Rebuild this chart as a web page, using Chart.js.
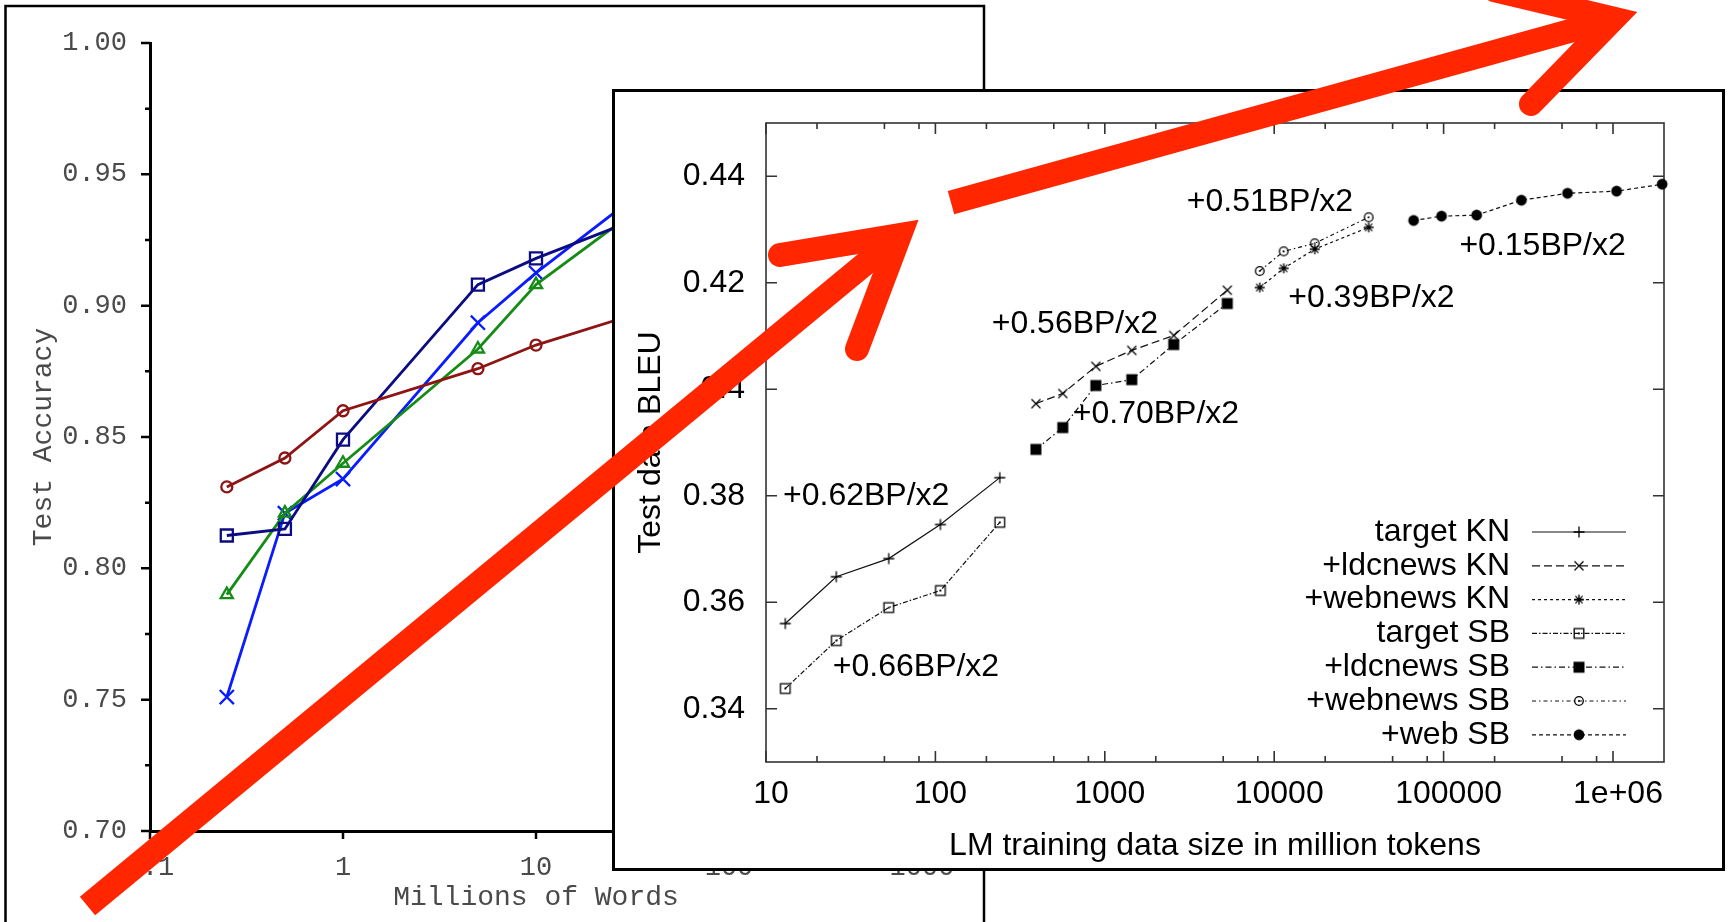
<!DOCTYPE html>
<html>
<head>
<meta charset="utf-8">
<title>Test accuracy vs. BLEU learning curves</title>
<script src="https://cdn.jsdelivr.net/npm/chart.js@4.4.1/dist/chart.umd.min.js"></script>
<style>
  html, body { margin: 0; padding: 0; background: #fff; overflow: hidden; }
  #stage { position: relative; width: 1729px; height: 922px; }
  #accuracyChart { position: absolute; left: 0; top: 0; }
  #insetBox { position: absolute; left: 612px; top: 89px; width: 1113px; height: 782px;
              border: 3px solid #000; box-sizing: border-box; background: #fff; }
  #bleuChart { position: absolute; left: 0; top: 0; }
  #arrows { position: absolute; left: 0; top: 0; pointer-events: none; }
</style>
</head>
<body>
<div id="stage">
  <canvas id="accuracyChart" width="1729" height="922"></canvas>
  <div id="insetBox"><canvas id="bleuChart" width="1107" height="776"></canvas></div>
  <canvas id="arrows" width="1729" height="922"></canvas>
</div>
<script>
// ---- background chart: test accuracy vs. millions of words ----
const wordCounts = [0.25, 0.5, 1, 5, 10, 50, 100, 500, 1000];
const darkRedAcc = [0.831, 0.842, 0.860, 0.876, 0.885, 0.901, 0.909, 0.917, 0.921];
const navyAcc = [0.8125, 0.815, 0.849, 0.908, 0.918, 0.938, 0.945, 0.955, 0.960];
const greenAcc = [0.790, 0.821, 0.840, 0.8835, 0.908, 0.946, 0.952, 0.962, 0.966];
const blueAcc = [0.751, 0.821, 0.834, 0.8935, 0.9125, 0.952, 0.958, 0.966, 0.970];
const wordTicks = [0.1, 1, 10, 100, 1000];
const wordTickLabels = ['0.1', '1', '10', '100', '1000'];
const accuracyTicks = [0.70, 0.75, 0.80, 0.85, 0.90, 0.95, 1.00];

// ---- inset chart: BLEU vs. LM training data size ----
const targetSizes = [13, 26, 53, 107, 240];
const targetKN = [0.356, 0.3648, 0.3682, 0.3746, 0.3834];
const targetSB = [0.3438, 0.3528, 0.359, 0.3622, 0.375];
const ldcnewsSizes = [392, 565, 885, 1443, 2552, 5285];
const ldcnewsKN = [0.3973, 0.3992, 0.4043, 0.4073, 0.4101, 0.4186];
const ldcnewsSB = [0.3887, 0.3928, 0.4007, 0.4018, 0.4084, 0.4161];
const webnewsSizes = [8210, 11370, 17340, 36100];
const webnewsKN = [0.4191, 0.4227, 0.4263, 0.4304];
const webnewsSB = [0.4222, 0.4259, 0.4274, 0.4323];
const webSizes = [66500, 97200, 156700, 288000, 539000, 1050000, 1950000];
const webSB = [0.4317, 0.4325, 0.4327, 0.4355, 0.4368, 0.4372, 0.4385];

const bleuTicks = [0.34, 0.36, 0.38, 0.40, 0.42, 0.44];
const bleuTickLabels = ['0.34', '0.36', '0.38', '0.4', '0.42', '0.44'];
const sizeTicks = [10, 100, 1000, 10000, 100000, 1000000];
const sizeTickLabels = ['10', '100', '1000', '10000', '100000', '1e+06'];
const sizeMinorTicks = [20, 50, 80, 200, 500, 800, 2000, 5000, 8000,
  20000, 50000, 80000, 200000, 500000, 800000];

const slopeNotes = ['+0.62BP/x2', '+0.66BP/x2', '+0.56BP/x2', '+0.70BP/x2',
  '+0.51BP/x2', '+0.39BP/x2', '+0.15BP/x2'];
const noteSizes = [12.6, 24.8, 215, 647, 3048, 12100, 124000];
const noteBleu = [0.380, 0.3479, 0.4122, 0.3953, 0.4351, 0.4171, 0.4269];

const toPoints = (xs, ys) => xs.map((x, i) => ({ x: x, y: ys[i] }));

// keep the plot area exactly where the layout padding puts it
const noScalePadding = s => {
  s.paddingTop = 0; s.paddingBottom = 0; s.paddingLeft = 0; s.paddingRight = 0;
};

// ---------- background chart ----------
const monoFont = '"Liberation Mono", "DejaVu Sans Mono", monospace';
const greyText = '#4a4a4a';

const accuracyFrame = {
  id: 'accuracyFrame',
  afterDraw(chart) {
    const { ctx, chartArea: a } = chart;
    const x = chart.scales.x, y = chart.scales.y;
    ctx.save();
    ctx.strokeStyle = '#000';
    ctx.lineWidth = 2.5;
    // the picture's own frame, open at the bottom
    ctx.beginPath();
    ctx.moveTo(5.5, 922); ctx.lineTo(5.5, 6); ctx.lineTo(984, 6); ctx.lineTo(984, 922);
    ctx.stroke();
    // outward ticks, minor ones halfway
    ctx.beginPath();
    for (let i = 0; i < accuracyTicks.length; i++) {
      const py = y.getPixelForValue(accuracyTicks[i]);
      ctx.moveTo(a.left - 9, py); ctx.lineTo(a.left, py);
      if (i < accuracyTicks.length - 1) {
        const pm = y.getPixelForValue((accuracyTicks[i] + accuracyTicks[i + 1]) / 2);
        ctx.moveTo(a.left - 5, pm); ctx.lineTo(a.left, pm);
      }
    }
    wordTicks.forEach(t => {
      const px = x.getPixelForValue(t);
      ctx.moveTo(px, a.bottom); ctx.lineTo(px, a.bottom + 8);
    });
    ctx.stroke();
    ctx.restore();
  }
};

const accuracyLine = (data, color, style, radius) => ({
  data: data,
  borderColor: color,
  borderWidth: 2.8,
  pointStyle: style,
  pointRadius: radius,
  pointBorderColor: color,
  pointBorderWidth: 2.3,
  pointBackgroundColor: 'rgba(0,0,0,0)',
  tension: 0
});

new Chart(document.getElementById('accuracyChart'), {
  type: 'line',
  data: {
    datasets: [
      accuracyLine(toPoints(wordCounts, darkRedAcc), '#8e1414', 'circle', 5.5),
      accuracyLine(toPoints(wordCounts, navyAcc), '#0c0c82', 'rect', 8.5),
      accuracyLine(toPoints(wordCounts, greenAcc), '#158c15', 'triangle', 7),
      accuracyLine(toPoints(wordCounts, blueAcc), '#0a1cff', 'crossRot', 10)
    ]
  },
  options: {
    responsive: false,
    animation: false,
    layout: { padding: { top: 43, right: 807, left: 0, bottom: 0 } },
    plugins: { legend: { display: false }, tooltip: { enabled: false } },
    scales: {
      x: {
        type: 'logarithmic',
        min: 0.1,
        max: 1000,
        afterFit: s => { s.height = 91; noScalePadding(s); },
        afterBuildTicks: s => { s.ticks = wordTicks.map(v => ({ value: v })); },
        ticks: {
          autoSkip: false, maxRotation: 0, padding: 21,
          color: greyText, font: { family: monoFont, size: 27 },
          callback: (v, i) => wordTickLabels[i]
        },
        grid: { display: false, drawTicks: false },
        border: { color: '#000', width: 3 },
        title: {
          display: true, text: 'Millions of Words', color: greyText,
          font: { family: monoFont, size: 28 }, padding: { top: 0, bottom: 8 }
        }
      },
      y: {
        min: 0.70,
        max: 1.00,
        afterFit: s => { s.width = 150; noScalePadding(s); },
        afterBuildTicks: s => { s.ticks = accuracyTicks.map(v => ({ value: v })); },
        ticks: {
          autoSkip: false, padding: 23,
          color: greyText, font: { family: monoFont, size: 27 },
          callback: v => v.toFixed(2)
        },
        grid: { display: false, drawTicks: false },
        border: { color: '#000', width: 3 },
        title: {
          display: true, text: 'Test Accuracy', color: greyText,
          font: { family: monoFont, size: 28 }, padding: { top: 27, bottom: 0 }
        }
      }
    }
  },
  plugins: [accuracyFrame]
});

// ---------- inset chart ----------
const sansFont = '"Liberation Sans", Arial, sans-serif';

function markerImage(draw) {
  const c = document.createElement('canvas');
  c.width = 18; c.height = 18;
  const g = c.getContext('2d');
  g.strokeStyle = '#000';
  g.fillStyle = '#000';
  g.lineWidth = 1.3;
  g.translate(9, 9);
  g.beginPath();
  draw(g);
  return c;
}
const plusMark = markerImage(g => { g.moveTo(-5.5, 0); g.lineTo(5.5, 0); g.moveTo(0, -5.5); g.lineTo(0, 5.5); g.stroke(); });
const crossMark = markerImage(g => { g.moveTo(-4.5, -4.5); g.lineTo(4.5, 4.5); g.moveTo(4.5, -4.5); g.lineTo(-4.5, 4.5); g.stroke(); });
const starMark = markerImage(g => {
  g.moveTo(-5, 0); g.lineTo(5, 0); g.moveTo(0, -5); g.lineTo(0, 5);
  g.moveTo(-3.6, -3.6); g.lineTo(3.6, 3.6); g.moveTo(3.6, -3.6); g.lineTo(-3.6, 3.6); g.stroke();
});
const boxDotMark = markerImage(g => { g.strokeRect(-4.8, -4.8, 9.6, 9.6); g.fillRect(-0.9, -0.9, 1.8, 1.8); });
const boxFillMark = markerImage(g => { g.fillRect(-5.5, -5.5, 11, 11); });
const circleDotMark = markerImage(g => { g.arc(0, 0, 4.3, 0, Math.PI * 2); g.stroke(); g.fillRect(-0.8, -0.8, 1.6, 1.6); });
const circleFillMark = markerImage(g => { g.arc(0, 0, 5.4, 0, Math.PI * 2); g.fill(); });

const bleuLine = (label, data, dash, marker) => ({
  label: label,
  data: data,
  borderColor: '#111',
  borderWidth: 1.2,
  borderDash: dash,
  pointStyle: marker,
  pointRadius: 5,
  tension: 0,
  clip: false
});

const insetDecor = {
  id: 'insetDecor',
  beforeDatasetsDraw(chart) {
    const { ctx, chartArea: a } = chart;
    const x = chart.scales.x, y = chart.scales.y;
    ctx.save();
    ctx.strokeStyle = '#333';
    ctx.lineWidth = 1.6;
    ctx.strokeRect(a.left, a.top, a.right - a.left, a.bottom - a.top);
    ctx.beginPath();
    sizeTicks.forEach(t => {
      const px = x.getPixelForValue(t);
      ctx.moveTo(px, a.bottom); ctx.lineTo(px, a.bottom - 11);
      ctx.moveTo(px, a.top); ctx.lineTo(px, a.top + 11);
    });
    sizeMinorTicks.forEach(t => {
      const px = x.getPixelForValue(t);
      ctx.moveTo(px, a.bottom); ctx.lineTo(px, a.bottom - 6);
      ctx.moveTo(px, a.top); ctx.lineTo(px, a.top + 6);
    });
    bleuTicks.forEach(t => {
      const py = y.getPixelForValue(t);
      ctx.moveTo(a.left, py); ctx.lineTo(a.left + 11, py);
      ctx.moveTo(a.right, py); ctx.lineTo(a.right - 11, py);
    });
    ctx.stroke();
    ctx.restore();
  },
  afterDatasetsDraw(chart) {
    const { ctx } = chart;
    const x = chart.scales.x, y = chart.scales.y;
    ctx.save();
    ctx.fillStyle = '#000';
    ctx.font = '32px ' + sansFont;
    ctx.textBaseline = 'middle';
    ctx.textAlign = 'left';
    slopeNotes.forEach((t, i) => {
      ctx.fillText(t, x.getPixelForValue(noteSizes[i]), y.getPixelForValue(noteBleu[i]));
    });
    // gnuplot style key in the lower right
    ctx.textAlign = 'right';
    chart.data.datasets.forEach((ds, i) => {
      const ry = 440 + i * 33.8;
      ctx.fillText(ds.label, 895, ry);
      ctx.save();
      ctx.strokeStyle = '#111';
      ctx.lineWidth = 1.2;
      ctx.setLineDash(ds.borderDash);
      ctx.beginPath();
      ctx.moveTo(917, ry); ctx.lineTo(1011, ry);
      ctx.stroke();
      ctx.restore();
      const m = ds.pointStyle;
      ctx.drawImage(m, 964 - m.width / 2, ry - m.height / 2);
    });
    ctx.restore();
  }
};

new Chart(document.getElementById('bleuChart'), {
  type: 'line',
  data: {
    datasets: [
      bleuLine('target KN', toPoints(targetSizes, targetKN), [], plusMark),
      bleuLine('+ldcnews KN', toPoints(ldcnewsSizes, ldcnewsKN), [8, 4], crossMark),
      bleuLine('+webnews KN', toPoints(webnewsSizes, webnewsKN), [3, 3], starMark),
      bleuLine('target SB', toPoints(targetSizes, targetSB), [5, 2, 1.5, 2], boxDotMark),
      bleuLine('+ldcnews SB', toPoints(ldcnewsSizes, ldcnewsSB), [6, 3, 1.5, 3], boxFillMark),
      bleuLine('+webnews SB', toPoints(webnewsSizes, webnewsSB), [4, 3, 1.5, 3], circleDotMark),
      bleuLine('+web SB', toPoints(webSizes, webSB), [4, 3], circleFillMark)
    ]
  },
  options: {
    responsive: false,
    animation: false,
    layout: { padding: { top: 31, right: 58, left: 0, bottom: 0 } },
    plugins: { legend: { display: false }, tooltip: { enabled: false } },
    scales: {
      x: {
        type: 'logarithmic',
        min: 10,
        max: 2000000,
        afterFit: s => { s.height = 106; noScalePadding(s); },
        afterBuildTicks: s => { s.ticks = sizeTicks.map(v => ({ value: v })); },
        ticks: {
          autoSkip: false, maxRotation: 0, padding: 13, labelOffset: 5,
          color: '#000', font: { family: sansFont, size: 32 },
          callback: (v, i) => sizeTickLabels[i]
        },
        grid: { display: false, drawTicks: false },
        border: { display: false },
        title: {
          display: true, text: 'LM training data size in million tokens', color: '#000',
          font: { family: sansFont, size: 32 }, padding: { top: 0, bottom: 3 }
        }
      },
      y: {
        min: 0.33,
        max: 0.45,
        afterFit: s => { s.width = 151; noScalePadding(s); },
        afterBuildTicks: s => { s.ticks = bleuTicks.map(v => ({ value: v })); },
        ticks: {
          autoSkip: false, padding: 21,
          color: '#000', font: { family: sansFont, size: 32 },
          callback: (v, i) => bleuTickLabels[i]
        },
        grid: { display: false, drawTicks: false },
        border: { display: false },
        title: {
          display: true, text: 'Test data BLEU', color: '#000',
          font: { family: sansFont, size: 32 }, padding: { top: 17, bottom: 0 }
        }
      }
    }
  },
  plugins: [insetDecor]
});

// ---------- red annotation arrows on top ----------
const ac = document.getElementById('arrows').getContext('2d');
ac.strokeStyle = '#ff2600';
ac.lineWidth = 24;
function arrow(from, vertex, armA, armB) {
  ac.lineCap = 'butt';
  ac.beginPath();
  ac.moveTo(from[0], from[1]);
  ac.lineTo(vertex[0], vertex[1]);
  ac.stroke();
  ac.lineCap = 'round';
  ac.lineJoin = 'miter';
  ac.beginPath();
  ac.moveTo(armA[0], armA[1]);
  ac.lineTo(vertex[0], vertex[1]);
  ac.lineTo(armB[0], armB[1]);
  ac.stroke();
}
arrow([87.5, 906], [900, 235], [780, 255], [857, 349]);
arrow([951, 202.6], [1614, 18.7], [1531, 104], [1495, -9.6]);
</script>
</body>
</html>
